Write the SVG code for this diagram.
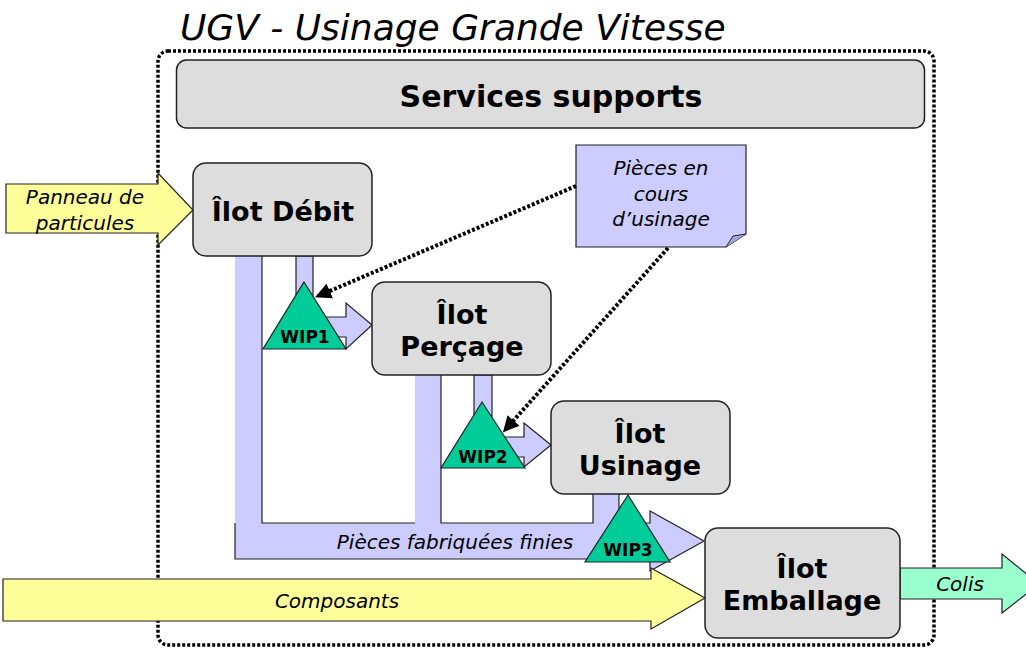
<svg xmlns="http://www.w3.org/2000/svg" width="1026" height="648" viewBox="0 0 1026 648">
<style>
.box{fill:#DDDDDD;stroke:#222;stroke-width:1.5}
.bt{font-family:"DejaVu Sans","Liberation Sans",sans-serif;font-weight:bold;fill:#000;text-anchor:middle}
.it{font-family:"DejaVu Sans","Liberation Sans",sans-serif;font-style:italic;fill:#000;text-anchor:middle;font-size:20px}
.lavf{fill:#CCCCFF;stroke:none}
.edge{fill:none;stroke:#222;stroke-width:1.2}
.lav{fill:#CCCCFF;stroke:#222;stroke-width:1.2}
.yel{fill:#FFFF99;stroke:#222;stroke-width:1.2}
.mint{fill:#99FFCC;stroke:#222;stroke-width:1.2}
.tri{fill:#00CC99;stroke:#222;stroke-width:1.2}
.wip{font-size:17px}
.dot{fill:none;stroke:#000;stroke-width:4;stroke-dasharray:3 2}
</style>
<defs>
<marker id="ah" viewBox="0 0 10 10" refX="8" refY="5" markerWidth="4" markerHeight="4" orient="auto" markerUnits="strokeWidth">
<path d="M0,0 L10,5 L0,10 z" fill="#000"/>
</marker>
</defs>
<rect width="1026" height="648" fill="#fff"/>
<text x="180" y="40" class="it" style="text-anchor:start;font-size:36px">UGV - Usinage Grande Vitesse</text>
<rect id="frame" x="158" y="51" width="776" height="594" rx="10" fill="none" stroke="#000" stroke-width="3.5" stroke-dasharray="3 2"/>
<g id="services">
<rect class="box" x="176.5" y="60" width="748" height="68" rx="10"/>
<text class="bt" x="551" y="107" style="font-size:30px">Services supports</text>
</g>
<g id="connectors">
<polygon class="lavf" points="235,256 262,256 262,523 415,523 415,375 441,375 441,523 593,523 593,493 619,493 619,523 650,523 650,511 704,541 650,571 650,559 235,559"/>
<polyline class="edge" points="262,256 262,523 415,523"/>
<polyline class="edge" points="441,375 441,523 593,523 593,493"/>
<polyline class="edge" points="619,493 619,523 650,523 650,511 704,541 650,571 650,559 235,559 235,523"/>
<text class="it" x="455" y="549">Pièces fabriquées finies</text>
<polygon class="lav" points="296,256 313,256 313,317 346,317 346,303 372,325 346,349 346,337 296,337"/>
<polygon class="lav" points="474,375 492,375 492,437 524,437 524,423 551,445 524,467 524,457 474,457"/>
<polygon class="yel" points="3,579 651,579 651,568 705,598 651,629 651,621 3,621"/>
<text class="it" x="337" y="608">Composants</text>
<polygon class="yel" points="6,184 158,184 158,173 193,210 158,245 158,233 6,233"/>
<text class="it" x="85" y="204">Panneau de</text>
<text class="it" x="85" y="230">particules</text>
<polygon class="mint" points="900,568 1002,568 1002,554 1039,584 1002,613 1002,599 900,599"/>
<text class="it" x="960" y="591">Colis</text>
</g>
<g id="debit">
<rect class="box" x="193" y="163" width="179" height="93" rx="13"/>
<text class="bt" x="283" y="221" style="font-size:27px">Îlot Débit</text>
</g>
<g id="percage">
<rect class="box" x="372" y="282" width="179" height="93" rx="13"/>
<text class="bt" x="462" y="324" style="font-size:27px">Îlot</text>
<text class="bt" x="462" y="356" style="font-size:27px">Perçage</text>
</g>
<g id="usinage">
<rect class="box" x="551" y="401" width="179" height="93" rx="13"/>
<text class="bt" x="640" y="443" style="font-size:27px">Îlot</text>
<text class="bt" x="640" y="475" style="font-size:27px">Usinage</text>
</g>
<g id="emballage">
<rect class="box" x="705" y="528" width="195" height="110" rx="13"/>
<text class="bt" x="802" y="578" style="font-size:27px">Îlot</text>
<text class="bt" x="802" y="610" style="font-size:27px">Emballage</text>
</g>
<g id="wip1">
<polygon class="tri" points="304,282 346,349 263,349"/>
<text class="bt wip" x="305" y="343">WIP1</text>
</g>
<g id="wip2">
<polygon class="tri" points="482,402 525,468 441,468"/>
<text class="bt wip" x="483" y="463">WIP2</text>
</g>
<g id="wip3">
<polygon class="tri" points="628,495 670,562 585,562"/>
<text class="bt wip" x="628" y="556">WIP3</text>
</g>
<g id="note">
<path d="M576,145 L746,145 L746,234 L726,247 L576,247 Z" fill="#CCCCFF" stroke="#222" stroke-width="1.2"/>
<path d="M746,234 L733,236 L726,247" fill="#A8A8D8" stroke="#222" stroke-width="1"/>
<text class="it" x="661" y="175">Pièces en</text>
<text class="it" x="661" y="201">cours</text>
<text class="it" x="661" y="226">d’usinage</text>
</g>
<g id="dotted-connectors">
<line class="dot" x1="576" y1="186" x2="318" y2="296" marker-end="url(#ah)"/>
<line class="dot" x1="668" y1="248" x2="505" y2="430" marker-end="url(#ah)"/>
</g>
</svg>
